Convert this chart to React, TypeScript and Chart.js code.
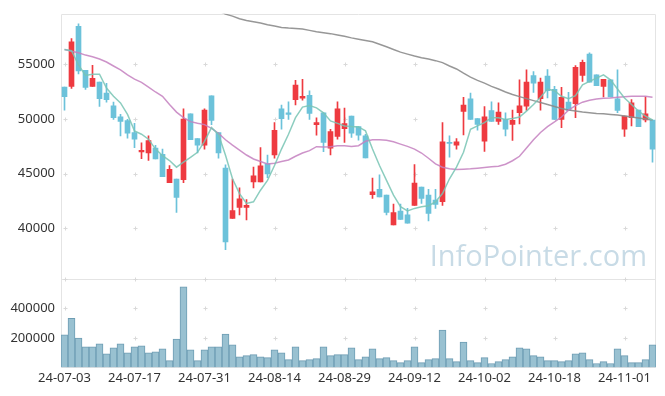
import React, { useEffect, useRef } from 'react';
import { Chart, registerables } from 'chart.js';

Chart.register(...registerables);

const dates = [
  '24-07-03','24-07-04','24-07-05','24-07-08','24-07-09','24-07-10','24-07-11','24-07-12','24-07-15','24-07-16',
  '24-07-17','24-07-18','24-07-19','24-07-22','24-07-23','24-07-24','24-07-25','24-07-26','24-07-29','24-07-30',
  '24-07-31','24-08-01','24-08-02','24-08-05','24-08-06','24-08-07','24-08-08','24-08-09','24-08-12','24-08-13',
  '24-08-14','24-08-16','24-08-19','24-08-20','24-08-21','24-08-22','24-08-23','24-08-26','24-08-27','24-08-28',
  '24-08-29','24-08-30','24-09-02','24-09-03','24-09-04','24-09-05','24-09-06','24-09-09','24-09-10','24-09-11',
  '24-09-12','24-09-13','24-09-19','24-09-20','24-09-23','24-09-24','24-09-25','24-09-26','24-09-27','24-09-30',
  '24-10-02','24-10-04','24-10-07','24-10-08','24-10-10','24-10-11','24-10-14','24-10-15','24-10-16','24-10-17',
  '24-10-18','24-10-21','24-10-22','24-10-23','24-10-24','24-10-25','24-10-28','24-10-29','24-10-30','24-10-31',
  '24-11-01','24-11-04','24-11-05','24-11-06','24-11-07',
];

const openPrices = [
  52918,52981,58466,54457,52981,53371,52375,51199,50203,49841,
  48755,46972,46882,47334,46764,44167,44502,44438,50475,48212,
  47606,52104,48755,45497,40909,41904,41904,44230,44230,45886,
  46701,50927,50565,51769,51895,52167,49479,50565,47334,48393,
  49117,50266,49298,48456,43081,43569,43026,40311,41578,41216,
  42085,43777,43026,42574,42420,47823,47606,50683,51832,50022,
  47968,50773,49778,49959,49506,50565,51171,53977,51859,53914,
  52710,49959,51533,51407,53977,55932,54031,52981,53579,51832,
  49054,50113,50809,49904,49904,
];

const highPrices = [
  52918,57353,58710,54457,54909,53371,53253,51533,50411,49959,
  49597,47823,48456,47579,47244,45741,44502,50927,50475,48212,
  50927,52104,48755,45796,44502,43687,42628,45588,47370,46701,
  49660,51262,51561,53524,53615,52583,50113,50565,49054,51561,
  50990,50266,49298,48601,44592,44891,43026,42212,42212,41814,
  45832,43777,43569,43569,49660,48456,48212,51986,52375,50022,
  51135,51561,51470,50565,50809,53579,54484,54339,53733,54520,
  52981,52891,52438,54882,55389,56058,54031,53615,53579,54484,
  50266,51769,50809,52013,49904,
];

const lowPrices = [
  50809,52800,54122,52710,52981,51135,51533,49959,48456,48239,
  47370,46375,46194,46339,44710,44167,41452,44167,48094,46882,
  47244,49479,46402,38049,40909,41216,40764,43687,44230,44619,
  46402,49054,49959,51289,51714,49959,48511,47008,46701,48149,
  47850,48303,48058,46429,42719,42873,41216,40311,40818,40456,
  42085,42266,40673,41814,42085,46493,47244,48547,49959,48963,
  47036,49778,49506,48456,48031,49542,50773,52438,50809,51923,
  49959,49208,50773,50113,53434,53371,53036,52013,52013,50565,
  48393,49361,49298,49723,46040,
];

const closePrices = [
  52040,57054,54393,52891,53705,51859,51769,50113,49778,48692,
  48149,47126,48031,46339,44710,45379,42809,49995,48094,47606,
  50809,49868,46882,38737,41606,42692,42085,44800,45705,44981,
  48963,50022,50411,53099,52076,50502,49660,47850,48846,50927,
  49570,48692,48511,46429,43325,42873,41452,41424,40818,40456,
  44139,42719,41361,42176,47913,47760,47913,51262,49959,49506,
  50203,49778,50628,49054,49868,51199,53371,53280,53371,52583,
  49959,51986,50773,54728,55181,53371,53036,53615,52013,50773,
  50266,51470,49298,50475,47244,
];

const volumes = [
  222000,333000,200000,140000,140000,160000,93000,133000,160000,100000,
  140000,147000,100000,107000,127000,47000,193000,547000,120000,47000,
  120000,140000,140000,227000,153000,73000,80000,87000,73000,67000,
  120000,100000,53000,140000,47000,53000,60000,140000,80000,87000,
  87000,133000,53000,73000,127000,60000,67000,47000,33000,47000,
  140000,33000,53000,60000,253000,60000,40000,173000,47000,33000,
  67000,27000,40000,53000,73000,133000,127000,80000,73000,47000,
  47000,40000,47000,93000,100000,53000,27000,40000,27000,127000,
  80000,33000,33000,53000,153000,
];

const ma5 = [
  56357,56239,54936,53977,54095,54095,52828,52076,51470,50411,
  48909,48601,48149,47244,46646,46194,45588,46040,46493,46945,
  47950,49208,48574,46674,44529,43171,42266,42420,43479,44384,
  45741,47244,48601,50113,51081,51226,51018,50565,49814,49597,
  49361,49298,49271,48909,47244,45741,44384,43026,41968,41578,
  41814,41968,42058,42420,43171,44529,45588,46945,49054,49361,
  49660,50113,50113,49959,50049,50176,50719,51316,51986,52737,
  52583,52076,51859,52131,53126,53434,53733,54031,53579,52737,
  51923,51316,50719,50266,49904,
];

const ma20 = [
  56357,56203,56058,55841,55696,55479,55208,54846,54484,54031,
  53642,53343,52918,52466,52076,51316,50628,50113,49751,49597,
  49479,49144,48692,48094,47606,47153,46701,46339,46103,45886,
  45950,46103,46248,46583,46882,47099,47461,47425,47461,47551,
  47551,47488,47551,47959,48094,48094,48058,47913,47696,47488,
  47244,46882,46402,45886,45588,45434,45379,45407,45434,45497,
  45560,45615,45678,45859,46176,46583,47334,48094,48755,49298,
  49724,50176,50809,51226,51533,51714,51832,51895,51923,51986,
  52040,52076,52076,52076,51986,
];

const ma60 = [
  null,null,null,null,null,null,null,null,null,null,
  null,null,null,null,null,null,null,null,null,null,
  null,null,59900,59588,59407,59163,59009,58891,58773,58620,
  58502,58375,58321,58285,58230,58104,57986,57896,57805,57687,
  57561,57416,57289,57172,57054,56837,56601,56357,56113,55932,
  55751,55606,55479,55334,55153,54846,54574,54185,53823,53524,
  53280,52981,52737,52466,52239,52040,51859,51678,51497,51316,
  51135,50954,50809,50719,50628,50565,50502,50475,50411,50357,
  50266,50176,50085,49995,49904,
];

const priceTicks = [40000, 45000, 50000, 55000];
const volumeTicks = [200000, 400000];
const priceMin = 35360;
const priceMax = 59620;
const volumeMax = 600000;

const UP = '#ee3a40';
const DOWN = '#6cc2da';
const FONT = { family: '"Noto Sans", sans-serif', size: 13 };

export default function App() {
  const canvasRef = useRef<HTMLCanvasElement | null>(null);

  useEffect(() => {
    document.body.style.margin = '0';
    const canvas = canvasRef.current;
    if (!canvas) return;

    const colors = closePrices.map((c, i) => (c >= openPrices[i] ? UP : DOWN));

    const framePlugin = {
      id: 'framePlugin',
      beforeDatasetsDraw(chart: any) {
        const { ctx, chartArea: a, scales } = chart;
        const xs = scales.x;
        const ys = scales.y;
        const yv = scales.yv;
        ctx.save();
        ctx.font = '29px "Open Sans", sans-serif';
        ctx.fillStyle = '#c8dbe6';
        ctx.textAlign = 'right';
        ctx.textBaseline = 'alphabetic';
        ctx.fillText('InfoPointer.com', a.right - 9, ys.bottom - 13);

        ctx.strokeStyle = '#e4e4e4';
        ctx.lineWidth = 1;
        const L = Math.round(a.left) + 0.5;
        const R = Math.round(a.right) - 0.5;
        const T = Math.round(a.top) + 0.5;
        const B = Math.round(a.bottom) - 0.5;
        const M = Math.round(ys.bottom) + 0.5;
        ctx.beginPath();
        ctx.moveTo(L, T); ctx.lineTo(L, B);
        ctx.moveTo(L, T); ctx.lineTo(R, T);
        ctx.moveTo(R, T); ctx.lineTo(R, B);
        ctx.moveTo(L, M); ctx.lineTo(R, M);
        ctx.moveTo(L, B); ctx.lineTo(R, B);
        ctx.stroke();

        ctx.strokeStyle = '#d9d9d9';
        const xPix: number[] = [];
        dates.forEach((_, i) => { if (i % 10 === 0) xPix.push(Math.round(xs.getPixelForValue(i)) + 0.5); });
        const yPix: number[] = [];
        priceTicks.forEach((v) => yPix.push(Math.round(ys.getPixelForValue(v)) + 0.5));
        yPix.push(M);
        volumeTicks.forEach((v) => yPix.push(Math.round(yv.getPixelForValue(v)) + 0.5));
        ctx.beginPath();
        xPix.forEach((px) => {
          yPix.forEach((py) => {
            ctx.moveTo(px - 2, py); ctx.lineTo(px + 2, py);
            ctx.moveTo(px, py - 2); ctx.lineTo(px, py + 2);
          });
        });
        ctx.stroke();
        ctx.restore();
      },
    };

    const chart = new Chart(canvas, {
      type: 'bar',
      data: {
        labels: dates,
        datasets: [
          {
            type: 'line', label: 'MA5', data: ma5, yAxisID: 'y',
            borderColor: 'rgba(120,196,180,0.85)', borderWidth: 1.5, pointRadius: 0, tension: 0,
          },
          {
            type: 'line', label: 'MA20', data: ma20, yAxisID: 'y',
            borderColor: 'rgba(196,128,192,0.85)', borderWidth: 1.5, pointRadius: 0, tension: 0,
          },
          {
            type: 'line', label: 'MA60', data: ma60 as any, yAxisID: 'y',
            borderColor: 'rgba(140,140,140,0.9)', borderWidth: 1.5, pointRadius: 0, tension: 0,
          },
          {
            type: 'bar', label: 'body', yAxisID: 'y',
            data: openPrices.map((o, i) => [o, closePrices[i]]) as any,
            backgroundColor: colors, borderWidth: 0, barThickness: 5, minBarLength: 1, grouped: false,
          },
          {
            type: 'bar', label: 'wick', yAxisID: 'y',
            data: lowPrices.map((l, i) => [l, highPrices[i]]) as any,
            backgroundColor: colors, borderWidth: 0, barThickness: 1, grouped: false,
          },
          {
            type: 'bar', label: 'volume', yAxisID: 'yv', data: volumes,
            backgroundColor: '#99c1d1', borderColor: '#6e9db3', borderWidth: 1,
            barPercentage: 1, categoryPercentage: 1, grouped: false,
          },
        ],
      },
      options: {
        responsive: true,
        maintainAspectRatio: false,
        animation: false,
        events: [],
        layout: { padding: { top: 10, right: 9, left: 0, bottom: 0 } },
        plugins: { legend: { display: false }, tooltip: { enabled: false } },
        scales: {
          x: {
            type: 'category',
            offset: true,
            grid: { display: false, drawTicks: false },
            border: { display: false },
            ticks: {
              autoSkip: false, maxRotation: 0, minRotation: 0, padding: 3,
              color: '#333', font: FONT,
              callback: (_v: any, i: number) => (i % 10 === 0 ? dates[i] : ''),
            },
            afterFit: (s: any) => { s.height = 28.5; },
          },
          yv: {
            type: 'linear', position: 'left', stack: 'panes', stackWeight: 89.5,
            min: 0, max: volumeMax,
            grid: { display: false, drawTicks: false },
            border: { display: false },
            ticks: { padding: 6, color: '#333', font: FONT, callback: (v: any) => String(v) },
            afterBuildTicks: (s: any) => { s.ticks = volumeTicks.map((v) => ({ value: v })); },
            afterFit: (s: any) => { s.width = 61; },
          },
          y: {
            type: 'linear', position: 'left', stack: 'panes', stackWeight: 268,
            min: priceMin, max: priceMax,
            grid: { display: false, drawTicks: false },
            border: { display: false },
            ticks: { padding: 6, color: '#333', font: FONT, callback: (v: any) => String(v) },
            afterBuildTicks: (s: any) => { s.ticks = priceTicks.map((v) => ({ value: v })); },
            afterFit: (s: any) => { s.width = 61; },
          },
        },
      } as any,
      plugins: [framePlugin],
    });

    return () => chart.destroy();
  }, []);

  return (
    <div style={{ position: 'absolute', left: 0, top: 0, width: 665, height: 396, background: '#fff' }}>
      <canvas ref={canvasRef} />
    </div>
  );
}
